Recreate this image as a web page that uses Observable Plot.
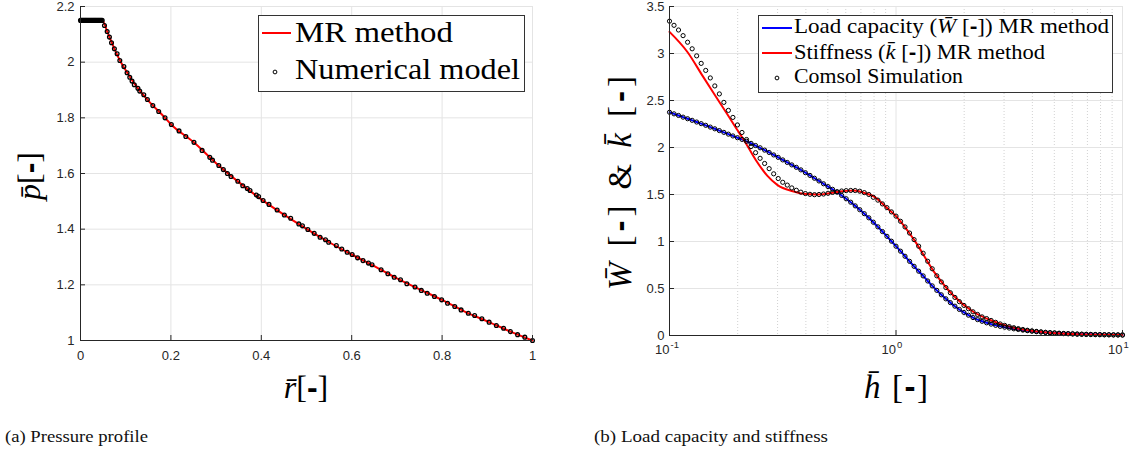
<!DOCTYPE html>
<html><head><meta charset="utf-8">
<script src="https://cdn.jsdelivr.net/npm/d3@7"></script>
<script src="https://cdn.jsdelivr.net/npm/@observablehq/plot@0.6"></script>
<style>
body{margin:0;background:#fff;}
#wrap{position:relative;width:1137px;height:452px;overflow:hidden;background:#fff;}
#left{position:absolute;left:0;top:0;}
#right{position:absolute;left:580px;top:0;}
#ov{position:absolute;left:0;top:0;pointer-events:none;}
</style></head><body>
<div id="wrap"><div id="left"></div><div id="right"></div>
<svg id="ov" width="1137" height="452" xmlns="http://www.w3.org/2000/svg"></svg></div>
<script>
// ---------- Panel (a): pressure profile ----------
const xTicksL = [0, 0.2, 0.4, 0.6, 0.8, 1];
const yTicksL = [1, 1.2, 1.4, 1.6, 1.8, 2, 2.2];
// MR method (red line)
const rMR = [0, 0.048, 0.06, 0.075, 0.09, 0.1, 0.125, 0.15, 0.187, 0.2, 0.25, 0.3, 0.35, 0.4, 0.45, 0.5, 0.55, 0.6, 0.65, 0.7, 0.75, 0.8, 0.85, 0.9, 0.95, 1];
const pMR = [2.15, 2.15, 2.106, 2.048, 1.998, 1.971, 1.91, 1.862, 1.80, 1.777, 1.713, 1.637, 1.569, 1.507, 1.452, 1.401, 1.353, 1.309, 1.267, 1.223, 1.184, 1.146, 1.104, 1.069, 1.033, 1.0];
// Numerical model (dots)
const rNum = [0, 0.002, 0.004, 0.006, 0.008, 0.01, 0.012, 0.014, 0.016, 0.018, 0.02, 0.022, 0.024, 0.026, 0.028, 0.03, 0.032, 0.034, 0.036, 0.038, 0.04, 0.042, 0.044, 0.046, 0.048,
  0.053, 0.059, 0.064, 0.0686, 0.075, 0.081, 0.087, 0.096, 0.103, 0.109, 0.114, 0.119, 0.127, 0.131, 0.140, 0.148, 0.160, 0.173, 0.187, 0.201, 0.218, 0.233, 0.251, 0.269, 0.286, 0.292, 0.306, 0.316, 0.325, 0.333, 0.348, 0.359, 0.369, 0.375, 0.389,
  0.394, 0.404, 0.417, 0.435, 0.451, 0.465, 0.483, 0.491, 0.503, 0.517, 0.530, 0.542, 0.549, 0.566, 0.578, 0.590, 0.601, 0.613, 0.625, 0.637, 0.645, 0.665, 0.680, 0.694, 0.708, 0.722, 0.740, 0.754, 0.767, 0.783, 0.799, 0.812, 0.828, 0.842, 0.858, 0.872, 0.888, 0.904, 0.920, 0.936, 0.951, 0.967, 0.983, 1.0];
const pNum = [2.15, 2.15, 2.15, 2.15, 2.15, 2.15, 2.15, 2.15, 2.15, 2.15, 2.15, 2.15, 2.15, 2.15, 2.15, 2.15, 2.15, 2.15, 2.15, 2.15, 2.15, 2.15, 2.15, 2.15, 2.15,
  2.132, 2.110, 2.090, 2.070, 2.048, 2.030, 2.006, 1.984, 1.962, 1.946, 1.932, 1.919, 1.906, 1.896, 1.883, 1.866, 1.844, 1.823, 1.800, 1.776, 1.753, 1.733, 1.712, 1.683, 1.658, 1.648, 1.629, 1.614, 1.600, 1.589, 1.572, 1.556, 1.546, 1.539, 1.523,
  1.517, 1.503, 1.489, 1.469, 1.451, 1.439, 1.419, 1.412, 1.399, 1.385, 1.371, 1.362, 1.353, 1.341, 1.329, 1.317, 1.309, 1.297, 1.287, 1.278, 1.272, 1.254, 1.240, 1.227, 1.218, 1.204, 1.192, 1.180, 1.170, 1.158, 1.146, 1.134, 1.122, 1.110, 1.098, 1.090, 1.078, 1.066, 1.054, 1.044, 1.032, 1.021, 1.012, 1.0];

// ---------- Panel (b): load capacity and stiffness ----------
const xTicksR = [0.1, 1, 10];
const xExpR = ["-1", "0", "1"];
const xMinorR = [0.2, 0.3, 0.4, 0.5, 0.6, 0.7, 0.8, 0.9, 2, 3, 4, 5, 6, 7, 8, 9];
const yTicksR = [0, 0.5, 1, 1.5, 2, 2.5, 3, 3.5];
// Comsol simulation sample positions
const hSim = [0.1, 0.1047, 0.1096, 0.1148, 0.1202, 0.1259, 0.1318, 0.138, 0.1445, 0.1514, 0.1585, 0.166, 0.1738, 0.182, 0.1905, 0.1995, 0.2089, 0.2188, 0.2291, 0.2399,
  0.2512, 0.263, 0.2754, 0.2884, 0.302, 0.3162, 0.3311, 0.3467, 0.3631, 0.3802, 0.3981, 0.4169, 0.4365, 0.4571, 0.4786, 0.5012, 0.5248, 0.5495, 0.5754, 0.6026,
  0.631, 0.6607, 0.6918, 0.7244, 0.7586, 0.7943, 0.8318, 0.871, 0.912, 0.955, 1.0, 1.047, 1.096, 1.148, 1.202, 1.259, 1.318, 1.38, 1.445, 1.514,
  1.585, 1.66, 1.738, 1.82, 1.905, 1.995, 2.089, 2.188, 2.291, 2.399, 2.512, 2.63, 2.754, 2.884, 3.02, 3.162, 3.311, 3.467, 3.631, 3.802,
  3.981, 4.169, 4.365, 4.571, 4.786, 5.012, 5.248, 5.495, 5.754, 6.026, 6.31, 6.607, 6.918, 7.244, 7.586, 7.943, 8.318, 8.71, 9.12, 9.55, 10];
// Load capacity W (Comsol dots; MR method line coincides)
const wSim = [2.375, 2.358, 2.341, 2.323, 2.306, 2.289, 2.271, 2.254, 2.236, 2.217, 2.199, 2.18, 2.161, 2.142, 2.123, 2.104, 2.086, 2.066, 2.044, 2.021,
  1.997, 1.972, 1.947, 1.921, 1.895, 1.868, 1.841, 1.815, 1.789, 1.762, 1.732, 1.703, 1.673, 1.644, 1.614, 1.584, 1.555, 1.525, 1.49, 1.455,
  1.418, 1.379, 1.338, 1.296, 1.252, 1.205, 1.156, 1.106, 1.055, 1.003, 0.95, 0.897, 0.843, 0.789, 0.736, 0.684, 0.634, 0.58, 0.528, 0.48,
  0.433, 0.39, 0.35, 0.312, 0.277, 0.245, 0.216, 0.191, 0.169, 0.151, 0.135, 0.121, 0.108, 0.097, 0.088, 0.079, 0.071, 0.064, 0.057, 0.051,
  0.046, 0.041, 0.037, 0.033, 0.03, 0.027, 0.024, 0.022, 0.02, 0.018, 0.016, 0.014, 0.013, 0.012, 0.011, 0.01, 0.009, 0.008, 0.007, 0.007, 0.006];
// Stiffness k (Comsol dots)
const kSim = [3.344, 3.30, 3.25, 3.19, 3.12, 3.05, 2.975, 2.895, 2.82, 2.74, 2.655, 2.57, 2.48, 2.395, 2.32, 2.24, 2.16, 2.085, 2.01, 1.945,
  1.885, 1.83, 1.775, 1.72, 1.67, 1.63, 1.60, 1.57, 1.545, 1.525, 1.51, 1.502, 1.498, 1.50, 1.505, 1.513, 1.522, 1.53, 1.537, 1.541,
  1.543, 1.542, 1.535, 1.52, 1.50, 1.47, 1.44, 1.40, 1.36, 1.315, 1.27, 1.215, 1.155, 1.09, 1.02, 0.95, 0.875, 0.79, 0.71, 0.635,
  0.57, 0.51, 0.455, 0.405, 0.36, 0.32, 0.285, 0.252, 0.224, 0.198, 0.18, 0.16, 0.14, 0.123, 0.108, 0.095, 0.083, 0.073, 0.064, 0.056,
  0.049, 0.043, 0.038, 0.033, 0.029, 0.026, 0.023, 0.02, 0.018, 0.016, 0.014, 0.013, 0.011, 0.01, 0.009, 0.008, 0.007, 0.007, 0.006, 0.005, 0.005];
// Stiffness k, MR method (red line)
const hMR = [0.1, 0.12, 0.14, 0.157, 0.18, 0.2, 0.213, 0.24, 0.27, 0.3, 0.35, 0.4, 0.45, 0.5, 0.55, 0.65, 0.75, 0.8, 0.9, 1.0, 1.2, 1.5, 1.8, 2.2, 2.6, 3.2, 4.5, 6, 10];
const kMR = [3.23, 3.016, 2.762, 2.575, 2.354, 2.18, 2.08, 1.87, 1.70, 1.60, 1.535, 1.505, 1.50, 1.51, 1.527, 1.543, 1.505, 1.478, 1.37, 1.27, 1.02, 0.65, 0.42, 0.25, 0.165, 0.092, 0.035, 0.016, 0.005];

const GRID = "#e4e4e4", AX = "#262626";
const FONT = "'Liberation Sans', Arial, sans-serif";
const fmt = d => String(d);

// ---- left chart ----
const LW = 560, LH = 400, LML = 80, LMR = 28, LMT = 6, LMB = 60;
const mrL = rMR.map((r, i) => ({r, p: pMR[i]}));
const numL = rNum.map((r, i) => ({r, p: pNum[i]}));
const left = Plot.plot({
  width: LW, height: LH, marginLeft: LML, marginRight: LMR, marginTop: LMT, marginBottom: LMB,
  style: {fontFamily: FONT, fontSize: "13px", color: AX, background: "transparent", overflow: "visible"},
  x: {domain: [0, 1], axis: null},
  y: {domain: [1, 2.2], axis: null},
  marks: [
    Plot.gridX(xTicksL, {stroke: GRID, strokeOpacity: 1}),
    Plot.gridY(yTicksL, {stroke: GRID, strokeOpacity: 1}),
    Plot.line(mrL, {x: "r", y: "p", stroke: "#ff0000", strokeWidth: 2, curve: "monotone-x"}),
    Plot.dot(numL, {x: "r", y: "p", r: 1.9, stroke: "#000", strokeWidth: 1.3, fill: "none"}),
    Plot.ruleX([0], {stroke: AX}),
    Plot.ruleY([1], {stroke: AX}),
    Plot.tickX(xTicksL, {x: d => d, stroke: AX, insetTop: LH - LMT - LMB - 5}),
    Plot.tickY(yTicksL, {y: d => d, stroke: AX, insetRight: LW - LML - LMR - 5}),
    Plot.axisX(xTicksL, {tickSize: 0, tickPadding: 10, label: null, fill: AX, tickFormat: fmt}),
    Plot.axisY(yTicksL, {tickSize: 0, tickPadding: 6, label: null, fill: AX, tickFormat: fmt})
  ]
});
document.getElementById("left").appendChild(left);

// ---- right chart ----
const RW = 557, RH = 400, RML = 89, RMR = 15, RMT = 6, RMB = 65;
const simR = hSim.map((h, i) => ({h, w: wSim[i], k: kSim[i]}));
const mrR = hMR.map((h, i) => ({h, k: kMR[i]}));
const expR = xTicksR.map((h, i) => ({h, e: xExpR[i]}));
const right = Plot.plot({
  width: RW, height: RH, marginLeft: RML, marginRight: RMR, marginTop: RMT, marginBottom: RMB,
  style: {fontFamily: FONT, fontSize: "13px", color: AX, background: "transparent", overflow: "visible"},
  x: {type: "log", domain: [0.1, 10], axis: null},
  y: {domain: [0, 3.5], axis: null},
  marks: [
    Plot.gridX(xMinorR, {stroke: "#d2d2d2", strokeOpacity: 1, strokeDasharray: "1,2"}),
    Plot.gridX(xTicksR, {stroke: GRID, strokeOpacity: 1}),
    Plot.gridY(yTicksR, {stroke: GRID, strokeOpacity: 1}),
    Plot.line(simR, {x: "h", y: "w", stroke: "#0000ff", strokeWidth: 2, curve: "monotone-x"}),
    Plot.line(mrR, {x: "h", y: "k", stroke: "#ff0000", strokeWidth: 2, curve: "monotone-x"}),
    Plot.dot(simR, {x: "h", y: "w", r: 2.1, stroke: "#000", strokeWidth: 1, fill: "none"}),
    Plot.dot(simR, {x: "h", y: "k", r: 2.1, stroke: "#000", strokeWidth: 1, fill: "none"}),
    Plot.ruleX([0.1], {stroke: AX}),
    Plot.ruleY([0], {stroke: AX}),
    Plot.tickX(xTicksR, {x: d => d, stroke: AX, insetTop: RH - RMT - RMB - 5}),
    Plot.tickY(yTicksR, {y: d => d, stroke: AX, insetRight: RW - RML - RMR - 5}),
    Plot.axisY(yTicksR, {tickSize: 0, tickPadding: 5, label: null, fill: AX, tickFormat: fmt}),
    Plot.text(xTicksR, {x: d => d, text: () => "10", frameAnchor: "bottom", dy: 18, textAnchor: "end", fill: AX, fontSize: 13}),
    Plot.text(expR, {x: "h", text: "e", frameAnchor: "bottom", dy: 12, dx: 1, textAnchor: "start", fill: AX, fontSize: 9.5})
  ]
});
document.getElementById("right").appendChild(right);

// ---- overlay: axis titles, legends, captions ----
const ov = d3.select("#ov");
const SERIF = "'Liberation Serif', 'Times New Roman', serif";
function dashB(sel) { sel.append("tspan").attr("font-family", FONT).attr("font-weight", "bold").text("-"); }

// left y title
{
  const t = ov.append("text").attr("transform", "translate(40,176) rotate(-90)").attr("text-anchor", "middle")
    .attr("font-family", SERIF).attr("font-size", 32).attr("fill", "#000");
  t.append("tspan").attr("font-style", "italic").text("p\u0304");
  t.append("tspan").text("[");
  dashB(t);
  t.append("tspan").text("]");
}
// left x title
{
  const t = ov.append("text").attr("x", 306).attr("y", 398).attr("text-anchor", "middle")
    .attr("font-family", SERIF).attr("font-size", 32).attr("fill", "#000");
  t.append("tspan").attr("font-style", "italic").text("r\u0304");
  t.append("tspan").text("[");
  dashB(t);
  t.append("tspan").text("]");
}
// right x title
{
  const t = ov.append("text").attr("x", 864).attr("y", 398)
    .attr("font-family", SERIF).attr("font-size", 33).attr("fill", "#000")
    .attr("textLength", 64).attr("lengthAdjust", "spacing");
  t.append("tspan").attr("font-style", "italic").text("h\u0304");
  t.append("tspan").text(" [");
  dashB(t);
  t.append("tspan").text("]");
}
// right y title
{
  const t = ov.append("text").attr("transform", "translate(631,290) rotate(-90)")
    .attr("font-family", SERIF).attr("font-size", 33).attr("fill", "#000")
    .attr("textLength", 214).attr("lengthAdjust", "spacing");
  t.append("tspan").attr("font-style", "italic").text("W\u0304");
  t.append("tspan").text(" [");
  dashB(t);
  t.append("tspan").text("] & ");
  t.append("tspan").attr("font-style", "italic").text("k\u0304");
  t.append("tspan").text(" [");
  dashB(t);
  t.append("tspan").text("]");
}
// left legend
{
  const g = ov.append("g").attr("transform", "translate(258,15)");
  g.append("rect").attr("x", 0.5).attr("y", 0.5).attr("width", 266).attr("height", 76).attr("fill", "#fff").attr("stroke", "#333");
  g.append("line").attr("x1", 4).attr("x2", 33).attr("y1", 18).attr("y2", 18).attr("stroke", "#ff0000").attr("stroke-width", 2);
  g.append("text").attr("x", 37).attr("y", 27).attr("font-family", SERIF).attr("font-size", 29).attr("fill", "#000")
    .attr("textLength", 158).attr("lengthAdjust", "spacingAndGlyphs").text("MR method");
  g.append("circle").attr("cx", 17).attr("cy", 57).attr("r", 1.9).attr("fill", "none").attr("stroke", "#000").attr("stroke-width", 1);
  g.append("text").attr("x", 37).attr("y", 64).attr("font-family", SERIF).attr("font-size", 29).attr("fill", "#000")
    .attr("textLength", 225).attr("lengthAdjust", "spacingAndGlyphs").text("Numerical model");
}
// right legend
{
  const g = ov.append("g").attr("transform", "translate(758,15)");
  g.append("rect").attr("x", 0.5).attr("y", 0.5).attr("width", 354).attr("height", 77).attr("fill", "#fff").attr("stroke", "#333");
  g.append("line").attr("x1", 4).attr("x2", 34).attr("y1", 13).attr("y2", 13).attr("stroke", "#0000ff").attr("stroke-width", 2);
  const t1 = g.append("text").attr("x", 36).attr("y", 18).attr("font-family", SERIF).attr("font-size", 21).attr("fill", "#000")
    .attr("textLength", 315).attr("lengthAdjust", "spacingAndGlyphs");
  t1.append("tspan").text("Load capacity (");
  t1.append("tspan").attr("font-style", "italic").text("W\u0304");
  t1.append("tspan").text(" [");
  dashB(t1);
  t1.append("tspan").text("]) MR method");
  g.append("line").attr("x1", 4).attr("x2", 34).attr("y1", 38).attr("y2", 38).attr("stroke", "#ff0000").attr("stroke-width", 2);
  const t2 = g.append("text").attr("x", 36).attr("y", 44).attr("font-family", SERIF).attr("font-size", 21).attr("fill", "#000")
    .attr("textLength", 251).attr("lengthAdjust", "spacingAndGlyphs");
  t2.append("tspan").text("Stiffness (");
  t2.append("tspan").attr("font-style", "italic").text("k\u0304");
  t2.append("tspan").text(" [");
  dashB(t2);
  t2.append("tspan").text("]) MR method");
  g.append("circle").attr("cx", 19).attr("cy", 63).attr("r", 1.9).attr("fill", "none").attr("stroke", "#000").attr("stroke-width", 1);
  g.append("text").attr("x", 36).attr("y", 68).attr("font-family", SERIF).attr("font-size", 21).attr("fill", "#000")
    .attr("textLength", 169).attr("lengthAdjust", "spacingAndGlyphs").text("Comsol Simulation");
}
// captions
ov.append("text").attr("x", 5).attr("y", 442).attr("font-family", SERIF).attr("font-size", 16).attr("fill", "#111")
  .attr("textLength", 143).attr("lengthAdjust", "spacingAndGlyphs").text("(a) Pressure profile");
ov.append("text").attr("x", 594).attr("y", 442).attr("font-family", SERIF).attr("font-size", 16).attr("fill", "#111")
  .attr("textLength", 234).attr("lengthAdjust", "spacingAndGlyphs").text("(b) Load capacity and stiffness");
</script>
</body></html>
